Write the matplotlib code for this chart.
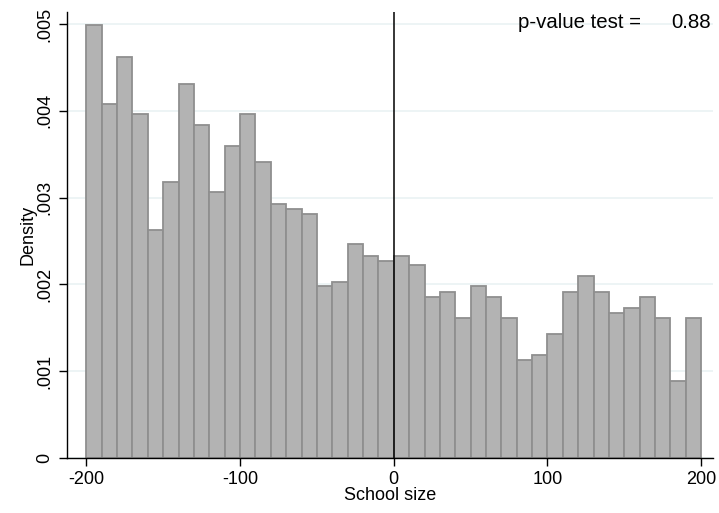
import matplotlib
matplotlib.use("Agg")
import matplotlib.pyplot as plt
import numpy as np

plt.rcParams['font.family'] = ['Liberation Sans', 'DejaVu Sans']

# histogram bins of width 10 between -200 and 200
bin_edges = list(range(-200, 201, 10))
density = [0.00499, 0.00408, 0.00462, 0.00396, 0.00263, 0.00318, 0.00431, 0.00384,
           0.00306, 0.00360, 0.00396, 0.00341, 0.00293, 0.00287, 0.00281, 0.00198,
           0.00203, 0.00246, 0.00233, 0.00227, 0.00233, 0.00222, 0.00185, 0.00191,
           0.00161, 0.00198, 0.00185, 0.00161, 0.00113, 0.00119, 0.00143, 0.00191,
           0.00209, 0.00191, 0.00167, 0.00173, 0.00185, 0.00161, 0.00089, 0.00161]
x_ticks = [-200, -100, 0, 100, 200]
y_ticks = [0, 0.001, 0.002, 0.003, 0.004, 0.005]
y_ticklabels = ['0', '.001', '.002', '.003', '.004', '.005']
p_value = 0.88

fig = plt.figure(figsize=(7.19, 5.13), dpi=100)
ax = fig.add_axes([66.7 / 719, 1 - 457.7 / 513, (713 - 66.7) / 719, (457.7 - 12) / 513])

lefts = np.array(bin_edges[:-1])
widths = np.diff(bin_edges)
ax.bar(lefts, density, width=widths, align='edge', color='#b3b3b3',
       edgecolor='#8f8f8f', linewidth=1.3, zorder=2)

ax.axvline(0, color='black', linewidth=1.1, zorder=3)

ax.set_xlim(-212.8, 207.7)
ax.set_ylim(0, 0.00514)
ax.set_xticks(x_ticks)
ax.set_xticklabels([str(t) for t in x_ticks], fontsize=13)
ax.set_yticks(y_ticks)
ax.set_yticklabels(y_ticklabels, fontsize=13, rotation=90, va='center')
ax.yaxis.grid(True, color='#eaf2f3', linewidth=1.2, zorder=0)
ax.set_axisbelow(True)

for s in ['top', 'right']:
    ax.spines[s].set_visible(False)
for s in ['left', 'bottom']:
    ax.spines[s].set_linewidth(1.0)
ax.tick_params(direction='out', length=6, width=1.0, colors='black')

ax.set_ylabel('Density', fontsize=13, labelpad=0)
ax.set_xlabel('School size', fontsize=13, labelpad=-1)

fig.text(518 / 719, 1 - 23 / 513, 'p-value test =', fontsize=14.7, va='center', ha='left')
fig.text(711 / 719, 1 - 23 / 513, f'{p_value:.2f}', fontsize=14.7, va='center', ha='right')

fig.savefig('out.png', dpi=100)
